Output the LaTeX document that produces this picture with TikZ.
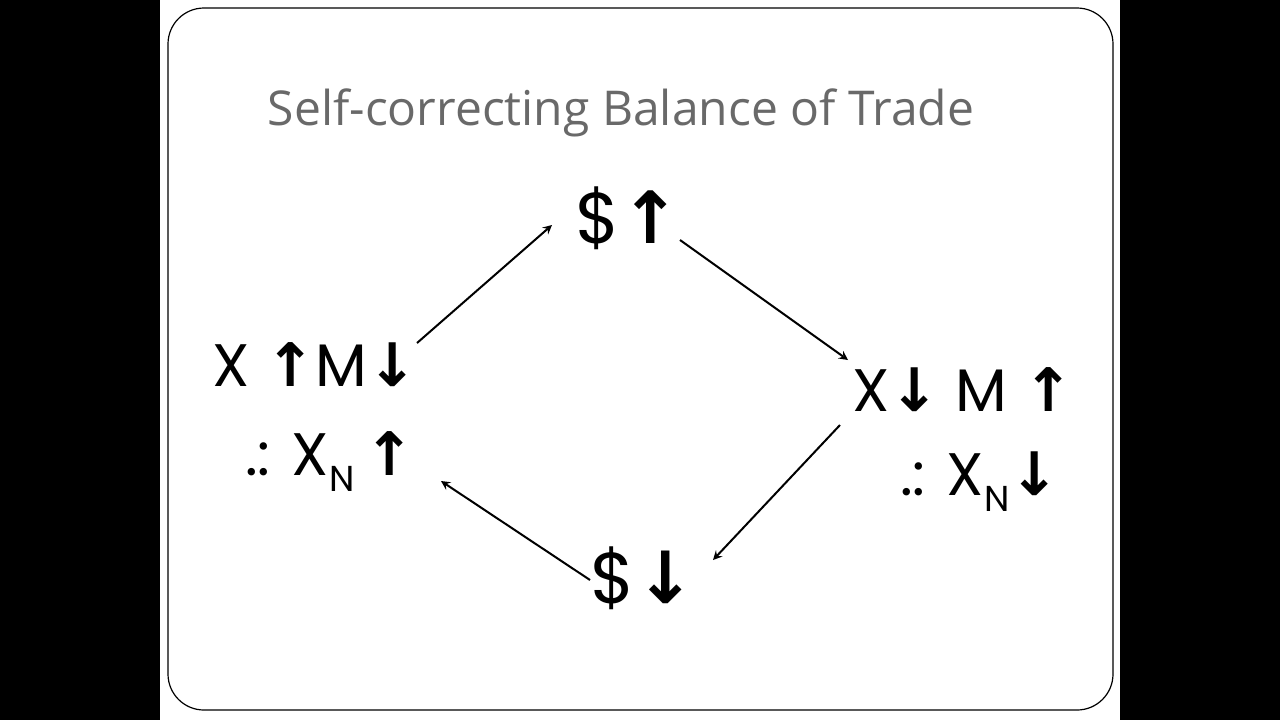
\documentclass[tikz,border=0pt]{standalone}
\usepackage{fontspec}
\setmainfont{Poppins}
\newfontfamily\titlefont{Open Sans}
\newfontfamily\symfont{DejaVu Sans}
\definecolor{titlegray}{RGB}{105,105,105}
\newcommand{\ua}{{\symfont\bfseries↑}}
\newcommand{\da}{{\symfont\bfseries↓}}
\begin{document}
\begin{tikzpicture}[x=0.5pt,y=-0.5pt,
  lbl/.style={font=\fontsize{30}{32}\selectfont, inner sep=0pt, anchor=center},
  big/.style={font=\fontsize{36}{38}\selectfont, inner sep=0pt, anchor=center},
  conn/.style={-stealth, line width=1pt}]
\fill[black] (0,0) rectangle (1280,720);
\fill[white] (160,0) rectangle (1120,720);
\draw[line width=0.6pt, rounded corners=18pt] (168,8) rectangle (1113,710);
\node[font=\titlefont\fontsize{24}{26}\selectfont, text=titlegray, anchor=center] (title) at (621,113) {Self-correcting Balance of Trade};
\node[big] (top) at (628,218) {\$\ua};
\node[big] (bot) at (643,578) {\$\da};
\node[lbl] (l1) at (315,365) {X \ua M\da};
\node[lbl] (l2) at (330,462) {.: X\raisebox{-8pt}{\fontsize{18}{18}\selectfont N}\,\ua};
\node[lbl] (r1) at (963,390) {X\da{} M \ua};
\node[lbl] (r2) at (980,482) {.: X\raisebox{-8pt}{\fontsize{18}{18}\selectfont N}\da};
\coordinate (a1) at (417,343); \coordinate (a2) at (552,225);
\coordinate (b1) at (680,240); \coordinate (b2) at (848,360);
\coordinate (c1) at (840,425); \coordinate (c2) at (713,560);
\coordinate (d1) at (590,580); \coordinate (d2) at (441,481);
\draw[conn] (a1) -- (a2);
\draw[conn] (b1) -- (b2);
\draw[conn] (c1) -- (c2);
\draw[conn] (d1) -- (d2);
\end{tikzpicture}
\end{document}
